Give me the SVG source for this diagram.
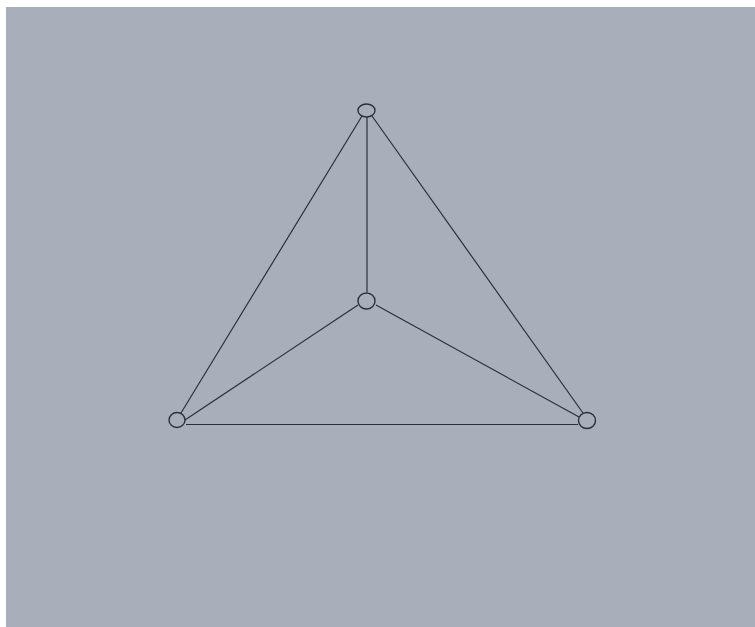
<svg xmlns="http://www.w3.org/2000/svg" width="755" height="627" viewBox="0 0 755 627">
<style>
.edge{stroke:#2b2f38;stroke-width:1.2;fill:none}
.node{stroke:#2b2f38;stroke-width:1.4;fill:none}
</style>
<rect x="0" y="0" width="755" height="627" fill="#ffffff"/>
<rect x="6" y="7" width="749" height="620" fill="#a9afba"/>
<g id="connectors">
<line class="edge" x1="367" y1="117" x2="367" y2="292"/>
<line class="edge" x1="362" y1="116" x2="181" y2="413"/>
<line class="edge" x1="372" y1="116" x2="583" y2="413"/>
<line class="edge" x1="358" y1="305" x2="185" y2="420"/>
<line class="edge" x1="376" y1="305" x2="579" y2="417"/>
<line class="edge" x1="186" y1="424.5" x2="578" y2="424.5"/>
</g>
<g id="n-top"><ellipse class="node" cx="366.5" cy="110.5" rx="8.5" ry="6.5"/></g>
<g id="n-center"><ellipse class="node" cx="366.5" cy="301" rx="8.5" ry="8"/></g>
<g id="n-left"><ellipse class="node" cx="177" cy="420" rx="8" ry="7.5"/></g>
<g id="n-right"><ellipse class="node" cx="587" cy="420.5" rx="8.5" ry="8"/></g>
</svg>
